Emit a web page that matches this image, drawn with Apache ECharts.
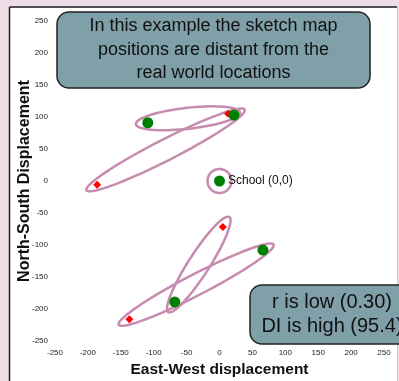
<!DOCTYPE html>
<html>
<head>
<meta charset="utf-8">
<script src="https://cdn.jsdelivr.net/npm/echarts@6/dist/echarts.min.js"></script>
<style>
  html, body { margin: 0; padding: 0; background: #EEDCE6; }
  #main { width: 399px; height: 381px; }
</style>
</head>
<body>
<div id="main"></div>
<script>
// sketch map positions (green) and real world positions (red), metres from school
var sketchPts = [[-109, 91], [22, 103], [0, 0], [66, -108], [-68, -189]];
var realPts = [[13, 105], [-186, -6], [5, -72], [-137, -216]];
// each ellipse joins a sketch point with a real point (indexes), school circles itself
var pairs = [[0, 'r', 0], [1, 'r', 1], [2, 's', 2], [3, 'r', 3], [4, 'r', 2]];
var xTicks = [-250, 250, 50];
var yTicks = [-250, 250, 50];
var noteTop = ['In this example the sketch map', 'positions are distant from the', 'real world locations'];
var noteBottom = ['r is low (0.30)', 'DI is high (95.4)'];

var font = 'Liberation Sans, Arial, sans-serif';

var ellipseData = pairs.map(function (p) {
  var a = sketchPts[p[0]];
  var b = p[1] === 'r' ? realPts[p[2]] : sketchPts[p[2]];
  return [a[0], a[1], b[0], b[1]];
});

function ellipse(params, api) {
  var p1 = api.coord([api.value(0), api.value(1)]);
  var p2 = api.coord([api.value(2), api.value(3)]);
  var cx = (p1[0] + p2[0]) / 2, cy = (p1[1] + p2[1]) / 2;
  var dx = p2[0] - p1[0], dy = p2[1] - p1[1];
  var len = Math.sqrt(dx * dx + dy * dy);
  var ra = len / 2 + 12, rb = len > 1 ? 10.5 : 12;
  var th = Math.atan2(dy, dx);
  var pts = [];
  for (var i = 0; i < 72; i++) {
    var t = i / 72 * Math.PI * 2;
    pts.push([
      cx + ra * Math.cos(t) * Math.cos(th) - rb * Math.sin(t) * Math.sin(th),
      cy + ra * Math.cos(t) * Math.sin(th) + rb * Math.sin(t) * Math.cos(th)
    ]);
  }
  return {
    type: 'polygon',
    shape: { points: pts },
    style: { fill: 'none', stroke: '#C68BAE', lineWidth: 2.5 }
  };
}

function noteBox(x, y, w, h, lines, size, lh, cx) {
  var kids = [{
    type: 'rect',
    shape: { x: x, y: y, width: w, height: h, r: 12 },
    style: { fill: '#7FA0A9', stroke: '#222', lineWidth: 1.5 }
  }];
  lines.forEach(function (s, i) {
    kids.push({
      type: 'text',
      style: {
        text: s, x: cx, y: y + h / 2 + (i - (lines.length - 1) / 2) * lh,
        align: 'center', verticalAlign: 'middle',
        font: size + 'px ' + font, fill: '#111'
      }
    });
  });
  return { type: 'group', z: 100, children: kids };
}

var dom = document.getElementById('main');
var myChart = echarts.init(dom);

var option = {
  backgroundColor: '#EEDCE6',
  animation: false,
  grid: { left: 55, top: 21, width: 329, height: 320, outerBoundsMode: 'none' },
  xAxis: {
    type: 'value', min: xTicks[0], max: xTicks[1], interval: xTicks[2],
    axisLine: { show: false }, axisTick: { show: false }, splitLine: { show: false },
    axisLabel: { fontSize: 8, color: '#222', fontFamily: font, margin: 8 },
    name: 'East-West displacement', nameLocation: 'middle', nameGap: 20,
    nameTextStyle: { fontSize: 15.5, fontWeight: 'bold', color: '#111', fontFamily: font }
  },
  yAxis: {
    type: 'value', min: yTicks[0], max: yTicks[1], interval: yTicks[2],
    axisLine: { show: false }, axisTick: { show: false }, splitLine: { show: false },
    axisLabel: { fontSize: 8, color: '#222', fontFamily: font, margin: 7 },
    name: 'North-South Displacement', nameLocation: 'middle', nameGap: 22,
    nameMoveOverlap: false,
    nameTextStyle: { fontSize: 16, fontWeight: 'bold', color: '#111', fontFamily: font }
  },
  graphic: [
    {
      type: 'rect', z: -10,
      shape: { x: 9.5, y: 7, width: 388, height: 390 },
      style: { fill: '#fff', stroke: '#ccc', lineWidth: 1 }
    },
    { type: 'line', z: -9, shape: { x1: 9.5, y1: 7, x2: 9.5, y2: 381 }, style: { stroke: '#222', lineWidth: 1.5 } },
    { type: 'line', z: -9, shape: { x1: 9.5, y1: 7, x2: 397, y2: 7 }, style: { stroke: '#222', lineWidth: 1.5 } },
    noteBox(57, 12, 313, 76, noteTop, 18, 23.5, 213.5),
    noteBox(250, 285, 180, 59, noteBottom, 20, 24, 332)
  ],
  series: [
    {
      type: 'custom', renderItem: ellipse, data: ellipseData, z: 1,
      encode: { x: [0, 2], y: [1, 3] }
    },
    {
      type: 'scatter', data: realPts, symbol: 'diamond', symbolSize: 8, z: 3,
      itemStyle: { color: '#FF0000', opacity: 1 }
    },
    {
      type: 'scatter', data: sketchPts, symbol: 'circle', symbolSize: 11, z: 4,
      itemStyle: { color: '#008000', opacity: 1 },
      label: {
        show: true, position: 'right', distance: 3,
        formatter: function (p) { return p.value[0] === 0 && p.value[1] === 0 ? 'School (0,0)' : ''; },
        fontSize: 12, color: '#111', fontFamily: font
      }
    }
  ]
};

window.onresize = function () {
  myChart.resize();
};

if (option && typeof option === 'object') {
  myChart.setOption(option);
}
</script>
</body>
</html>
